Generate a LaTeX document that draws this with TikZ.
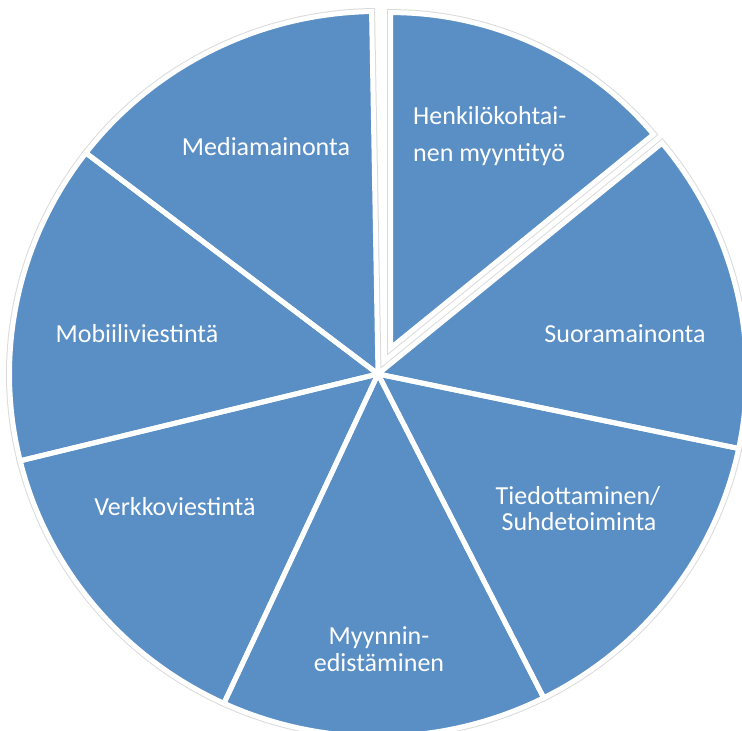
\documentclass[tikz,border=0pt]{standalone}
\usepackage{fontspec}
\setmainfont{Carlito}
\definecolor{pieblue}{RGB}{90,143,198}
\begin{document}
\begin{tikzpicture}[x=1pt,y=1pt,
  slicegray/.style={draw=black!14, line width=7pt},
  slicefill/.style={fill=pieblue},
  slicewhite/.style={draw=white, line width=5pt},
  lbl/.style={text=white, font=\fontsize{26}{31}\selectfont, inner sep=0pt, anchor=base}]
\clip (0,0) rectangle (742,731);
\def\R{362.5}
\def\RE{335.5}
\begin{scope}[shift={(378,357)}, xscale=1.0166]
  % pass 1: faint grey shadow ring
  \foreach \a/\b in {39.571/-11.857, -11.857/-63.286, -63.286/-114.714, -114.714/-166.143, -166.143/-217.571, -217.571/-269}{
    \path[slicegray] (0,0) -- (\a:\R) arc[start angle=\a, end angle=\b, radius=\R] -- cycle;}
  \begin{scope}[shift={(64.5:28.7)}]
    \path[slicegray] (0,0) -- (90:\RE) arc[start angle=90, end angle=39.571, radius=\RE] -- cycle;
  \end{scope}
  % pass 2: fills
  \foreach \a/\b in {39.571/-11.857, -11.857/-63.286, -63.286/-114.714, -114.714/-166.143, -166.143/-217.571, -217.571/-269}{
    \path[slicefill] (0,0) -- (\a:\R) arc[start angle=\a, end angle=\b, radius=\R] -- cycle;}
  \begin{scope}[shift={(64.5:28.7)}]
    \path[slicefill] (0,0) -- (90:\RE) arc[start angle=90, end angle=39.571, radius=\RE] -- cycle;
  \end{scope}
  % pass 3: white borders
  \foreach \a/\b in {39.571/-11.857, -11.857/-63.286, -63.286/-114.714, -114.714/-166.143, -166.143/-217.571, -217.571/-269}{
    \path[slicewhite] (0,0) -- (\a:\R) arc[start angle=\a, end angle=\b, radius=\R] -- cycle;}
  \begin{scope}[shift={(64.5:28.7)}]
    \path[slicewhite] (0,0) -- (90:\RE) arc[start angle=90, end angle=39.571, radius=\RE] -- cycle;
  \end{scope}
\end{scope}
% labels
\node[lbl] (media) at (266,575) {Mediamainonta};
\node[lbl, anchor=base west] (henk1) at (413,606) {Henkilökohtai-};
\node[lbl, anchor=base west] (henk2) at (413,569) {nen myyntityö};
\node[lbl] (suora) at (625,388) {Suoramainonta};
\node[lbl] (tied1) at (578,226) {Tiedottaminen/};
\node[lbl] (tied2) at (579,200) {Suhdetoiminta};
\node[lbl] (mobi) at (137,388) {Mobiiliviestintä};
\node[lbl] (verk) at (175,215) {Verkkoviestintä};
\node[lbl] (myy1) at (379,86) {Myynnin-};
\node[lbl] (myy2) at (379,59) {edistäminen};
\end{tikzpicture}
\end{document}
